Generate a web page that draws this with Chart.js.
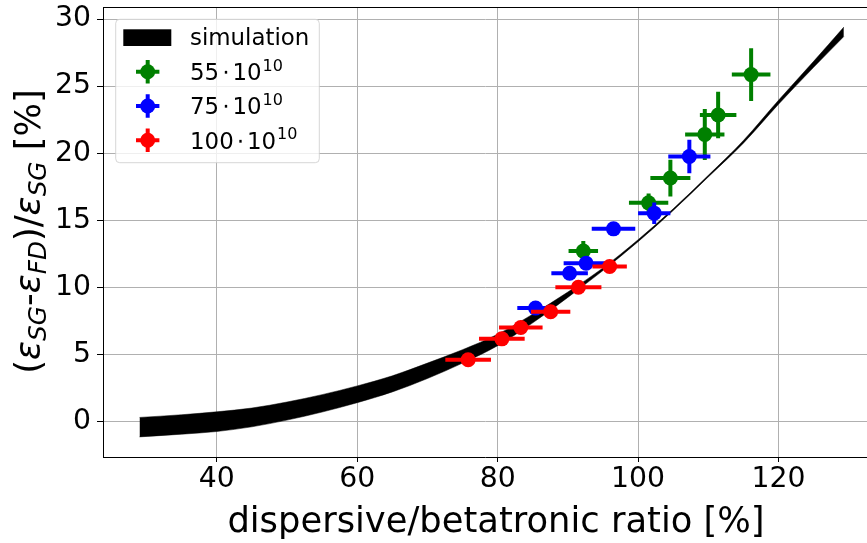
<!DOCTYPE html>
<html>
<head>
<meta charset="utf-8">
<script src="https://cdn.jsdelivr.net/npm/chart.js@4/dist/chart.umd.min.js"></script>
<style>
html,body{margin:0;padding:0;background:#fff;overflow:hidden;}
canvas{display:block;}
</style>
</head>
<body>
<canvas id="c" width="867" height="543"></canvas>
<script>
// Simulation band: dispersive/betatronic ratio [%] with lower and upper edge [%]
const simRatio = [29, 35, 40, 45, 50, 55, 60, 65, 70, 75, 80, 85, 90, 95, 100, 105, 110, 115, 120, 125, 129.3];
const simUpper = [0.3, 0.5, 0.72, 1.0, 1.45, 2.0, 2.65, 3.4, 4.35, 5.35, 6.5, 8.0, 9.65, 11.45, 13.55, 15.85, 18.35, 20.95, 23.95, 26.85, 29.4];
const simLower = [-1.15, -0.95, -0.75, -0.4, 0.1, 0.7, 1.4, 2.2, 3.2, 4.35, 5.65, 7.35, 9.25, 11.25, 13.4, 15.73, 18.23, 20.75, 23.65, 26.4, 28.7];

// Measurements, 55e10 particles
const ratio55 = [92.2, 101.5, 104.6, 109.5, 111.4, 116.1];
const diff55 = [12.7, 16.3, 18.15, 21.4, 22.85, 25.86];
const ratioErr55 = [2.1, 2.8, 2.85, 2.8, 2.6, 2.75];
const diffErr55 = [0.75, 0.7, 1.37, 1.9, 1.74, 1.96];

// Measurements, 75e10 particles
const ratio75 = [85.4, 90.25, 92.6, 96.5, 102.3, 107.3];
const diff75 = [8.45, 11.05, 11.8, 14.36, 15.53, 19.75];
const ratioErr75 = [2.6, 2.6, 3.2, 3.1, 2.3, 3.0];
const diffErr75 = [0.3, 0.5, 0.5, 0.4, 0.8, 1.25];

// Measurements, 100e10 particles
const ratio100 = [75.8, 80.6, 83.3, 87.55, 91.5, 95.95];
const diff100 = [4.6, 6.16, 7.0, 8.18, 10.01, 11.55];
const ratioErr100 = [3.25, 3.25, 3.1, 2.8, 3.28, 2.45];
const diffErr100 = [0.3, 0.3, 0.3, 0.3, 0.3, 0.3];

// Legend entries
const seriesLabels = ['55', '75', '100'];
const seriesColors = ['#008000', '#0000ff', '#ff0000'];

const FONT = "'DejaVu Sans', sans-serif";
Chart.defaults.font.family = FONT;
Chart.defaults.color = '#000';

function pts(xs, ys) { return xs.map((x, i) => ({x: x, y: ys[i]})); }

function measurement(idx, xs, ys, ex, ey, order) {
  return {
    type: 'scatter',
    label: seriesLabels[idx],
    data: pts(xs, ys),
    errX: ex,
    errY: ey,
    backgroundColor: seriesColors[idx],
    borderColor: seriesColors[idx],
    pointRadius: 7.5,
    pointBorderWidth: 0,
    order: order
  };
}

// Horizontal and vertical error bars, drawn just beneath each series' markers
const errorBars = {
  id: 'errorBars',
  beforeDatasetDraw(chart, args) {
    const ds = chart.data.datasets[args.index];
    if (!ds.errX) return;
    const ctx = chart.ctx, sx = chart.scales.x, sy = chart.scales.y, a = chart.chartArea;
    ctx.save();
    ctx.beginPath();
    ctx.rect(a.left, a.top, a.right - a.left, a.bottom - a.top);
    ctx.clip();
    ctx.strokeStyle = ds.borderColor;
    ctx.lineWidth = 4;
    ctx.lineCap = 'butt';
    ds.data.forEach((p, i) => {
      const px = sx.getPixelForValue(p.x), py = sy.getPixelForValue(p.y);
      ctx.beginPath();
      ctx.moveTo(sx.getPixelForValue(p.x - ds.errX[i]), py);
      ctx.lineTo(sx.getPixelForValue(p.x + ds.errX[i]), py);
      ctx.moveTo(px, sy.getPixelForValue(p.y - ds.errY[i]));
      ctx.lineTo(px, sy.getPixelForValue(p.y + ds.errY[i]));
      ctx.stroke();
    });
    ctx.restore();
  }
};

// Top spine, axis titles and the legend box
const decorations = {
  id: 'decorations',
  afterDraw(chart) {
    const ctx = chart.ctx, a = chart.chartArea;
    ctx.save();
    // top spine
    ctx.strokeStyle = '#000';
    ctx.lineWidth = 1;
    ctx.beginPath();
    ctx.moveTo(a.left, a.top + 0.5);
    ctx.lineTo(a.right, a.top + 0.5);
    ctx.stroke();

    // x title
    ctx.fillStyle = '#000';
    ctx.font = '35.3px ' + FONT;
    ctx.textAlign = 'center';
    ctx.textBaseline = 'alphabetic';
    ctx.fillText('dispersive/betatronic ratio [%]', 496, 531.5);

    // y title with subscripts
    const big = 35.3, small = 24.7;
    const parts = [
      {t: '(', f: 'normal'}, {t: 'ε', f: 'italic'}, {t: 'SG', f: 'italic', sub: true},
      {t: '-', f: 'normal'}, {t: 'ε', f: 'italic'}, {t: 'FD', f: 'italic', sub: true},
      {t: ')/', f: 'normal'}, {t: 'ε', f: 'italic'}, {t: 'SG', f: 'italic', sub: true},
      {t: ' [%]', f: 'normal'}
    ];
    const fontOf = p => (p.f === 'italic' ? 'italic ' : '') + (p.sub ? small : big) + 'px ' + FONT;
    let total = 0;
    parts.forEach(p => { ctx.font = fontOf(p); p.w = ctx.measureText(p.t).width; total += p.w; });
    ctx.translate(40, 231.5);
    ctx.rotate(-Math.PI / 2);
    ctx.textAlign = 'left';
    let cx = -total / 2;
    parts.forEach(p => {
      ctx.font = fontOf(p);
      ctx.fillText(p.t, cx, p.sub ? 6 : 0);
      cx += p.w;
    });
    ctx.setTransform(1, 0, 0, 1, 0, 0);

    // legend frame
    const bx = 115.7, by = 19.3, bw = 203.6, bh = 143.4, r = 4;
    ctx.beginPath();
    ctx.moveTo(bx + r, by);
    ctx.arcTo(bx + bw, by, bx + bw, by + bh, r);
    ctx.arcTo(bx + bw, by + bh, bx, by + bh, r);
    ctx.arcTo(bx, by + bh, bx, by, r);
    ctx.arcTo(bx, by, bx + bw, by, r);
    ctx.closePath();
    ctx.fillStyle = 'rgba(255,255,255,0.8)';
    ctx.fill();
    ctx.strokeStyle = 'rgba(204,204,204,0.8)';
    ctx.lineWidth = 1;
    ctx.stroke();

    // simulation patch
    ctx.fillStyle = '#000';
    ctx.fillRect(123.3, 29.3, 48, 16.7);
    ctx.font = '22.9px ' + FONT;
    ctx.textAlign = 'left';
    ctx.fillText('simulation', 190, 45);

    // measurement entries
    const rows = [71.7, 106, 140.3];
    rows.forEach((cy, i) => {
      const col = seriesColors[i], mx = 147.7;
      ctx.strokeStyle = col;
      ctx.lineWidth = 4;
      ctx.beginPath();
      ctx.moveTo(mx - 11.7, cy); ctx.lineTo(mx + 11.7, cy);
      ctx.moveTo(mx, cy - 11.7); ctx.lineTo(mx, cy + 11.7);
      ctx.stroke();
      ctx.fillStyle = col;
      ctx.beginPath();
      ctx.arc(mx, cy, 7.5, 0, Math.PI * 2);
      ctx.fill();

      const base = cy + 8.3;
      ctx.fillStyle = '#000';
      ctx.font = '22.9px ' + FONT;
      let tx = 190;
      ctx.fillText(seriesLabels[i], tx, base);
      tx += ctx.measureText(seriesLabels[i]).width + 3;
      ctx.fillText('⋅', tx, base);
      tx += ctx.measureText('⋅').width + 3;
      ctx.fillText('10', tx, base);
      tx += ctx.measureText('10').width + 1;
      ctx.font = '16px ' + FONT;
      ctx.fillText('10', tx, base - 9.5);
    });
    ctx.restore();
  }
};

new Chart(document.getElementById('c'), {
  data: {
    datasets: [
      {
        type: 'line',
        label: 'simulation',
        data: pts(simRatio, simUpper),
        borderColor: '#000',
        backgroundColor: '#000',
        borderWidth: 0.5,
        pointRadius: 0,
        cubicInterpolationMode: 'monotone',
        fill: '+1',
        order: 4
      },
      {
        type: 'line',
        label: 'simulation lower',
        data: pts(simRatio, simLower),
        borderColor: '#000',
        backgroundColor: '#000',
        borderWidth: 0.5,
        pointRadius: 0,
        cubicInterpolationMode: 'monotone',
        fill: false,
        order: 3
      },
      measurement(0, ratio55, diff55, ratioErr55, diffErr55, 2),
      measurement(1, ratio75, diff75, ratioErr75, diffErr75, 1),
      measurement(2, ratio100, diff100, ratioErr100, diffErr100, 0)
    ]
  },
  options: {
    responsive: false,
    devicePixelRatio: 1,
    animation: false,
    events: [],
    layout: {autoPadding: false, padding: {left: 0, top: 7, right: 0, bottom: 0}},
    plugins: {legend: {display: false}, tooltip: {enabled: false}},
    scales: {
      x: {
        type: 'linear',
        min: 23.8,
        max: 132.6,
        border: {display: true, color: '#000', width: 1},
        grid: {color: '#b0b0b0', lineWidth: 1, tickColor: '#000', tickLength: 5, tickWidth: 1},
        ticks: {stepSize: 20, includeBounds: false, padding: 1, font: {size: 28.3}, color: '#000', maxRotation: 0},
        afterFit(s) { s.height = 86; s.paddingLeft = 0; s.paddingRight = 0; }
      },
      y: {
        type: 'linear',
        min: -2.65,
        max: 30.9,
        border: {display: true, color: '#000', width: 1},
        grid: {color: '#b0b0b0', lineWidth: 1, tickColor: '#000', tickLength: 6, tickWidth: 1},
        ticks: {stepSize: 5, includeBounds: false, padding: 6, font: {size: 28.3}, color: '#000'},
        afterFit(s) { s.width = 103; s.paddingTop = 0; s.paddingBottom = 0; }
      }
    }
  },
  plugins: [errorBars, decorations]
});
</script>
</body>
</html>
